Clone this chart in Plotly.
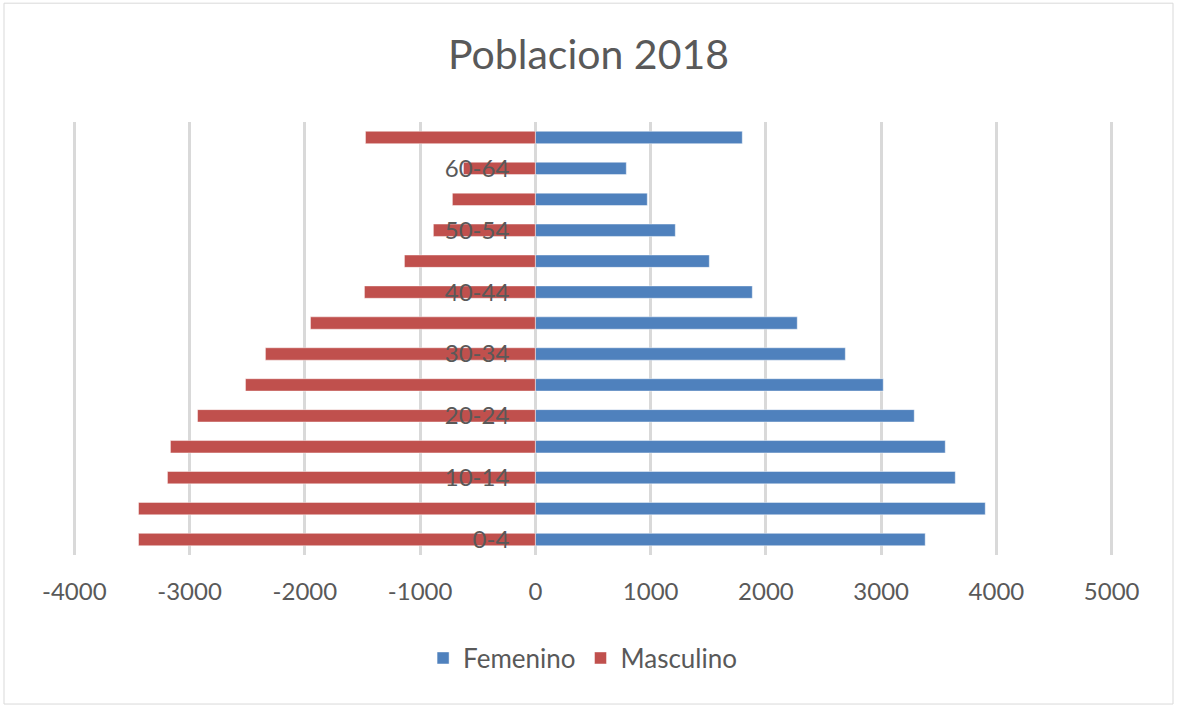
import plotly.graph_objects as go

categories = ["0-4", "5-9", "10-14", "15-19", "20-24", "25-29", "30-34",
              "35-39", "40-44", "45-49", "50-54", "55-59", "60-64", "65+"]
femenino = [3382, 3903, 3643, 3556, 3287, 3018, 2689,
            2272, 1882, 1509, 1214, 971, 789, 1795]
masculino = [-3443, -3443, -3192, -3166, -2931, -2515, -2342,
             -1951, -1483, -1136, -885, -720, -624, -1474]
x_ticks = [-4000, -3000, -2000, -1000, 0, 1000, 2000, 3000, 4000, 5000]
x_tick_labels = [str(v) for v in x_ticks]
shown_labels = categories[::2]

x_range = [-4020, 5020]
text_color = "#595959"
font_family = "Lato, 'Open Sans', sans-serif"

fig = go.Figure()
fig.add_trace(go.Bar(
    y=categories, x=femenino, orientation="h", name="Femenino",
    marker=dict(color="#4f81bd", line=dict(color="rgba(255,255,255,0.45)", width=1)),
    width=0.4,
))
fig.add_trace(go.Bar(
    y=categories, x=masculino, orientation="h", name="Masculino",
    marker=dict(color="#c0504d", line=dict(color="rgba(255,255,255,0.45)", width=1)),
    width=0.4,
))

zero_pos = (0 - x_range[0]) / (x_range[1] - x_range[0])

fig.update_layout(
    width=1177, height=707,
    margin=dict(l=72, r=63, t=122, b=152),
    paper_bgcolor="white", plot_bgcolor="white",
    barmode="overlay",
    font=dict(family=font_family, color=text_color, size=24),
    title=dict(text="Poblacion 2018", x=0.5, xanchor="center", y=0.922, yanchor="middle",
               font=dict(size=41, color=text_color, family=font_family)),
    xaxis=dict(range=x_range, tickvals=x_ticks, ticktext=x_tick_labels,
               showgrid=True, gridcolor="#d9d9d9",
               gridwidth=2.5, zeroline=False, showline=False, ticks="",
               ticklabelstandoff=20, tickfont=dict(size=24, color=text_color)),
    yaxis=dict(type="category", categoryorder="array", categoryarray=categories,
               range=[-0.5, len(categories) - 0.5],
               tickvals=shown_labels, ticktext=shown_labels,
               anchor="free", position=zero_pos, showgrid=False, zeroline=False,
               showline=False, ticks="", ticklabelstandoff=26,
               tickfont=dict(size=24, color=text_color)),
    legend=dict(orientation="h", x=0.49, xanchor="center", y=-0.238, yanchor="middle",
                font=dict(size=26, color=text_color), traceorder="normal",
                itemwidth=30),
    showlegend=True,
)

# outer chart border
fig.add_shape(type="rect", xref="paper", yref="paper",
              x0=-68 / 1042, x1=1 + 59 / 1042, y0=-148 / 430, y1=1 + 118 / 430,
              line=dict(color="#d9d9d9", width=1), fillcolor="rgba(0,0,0,0)", layer="below")

fig.write_html("out.html", config={"displayModeBar": False},
               post_script="document.body.style.margin='0';")
